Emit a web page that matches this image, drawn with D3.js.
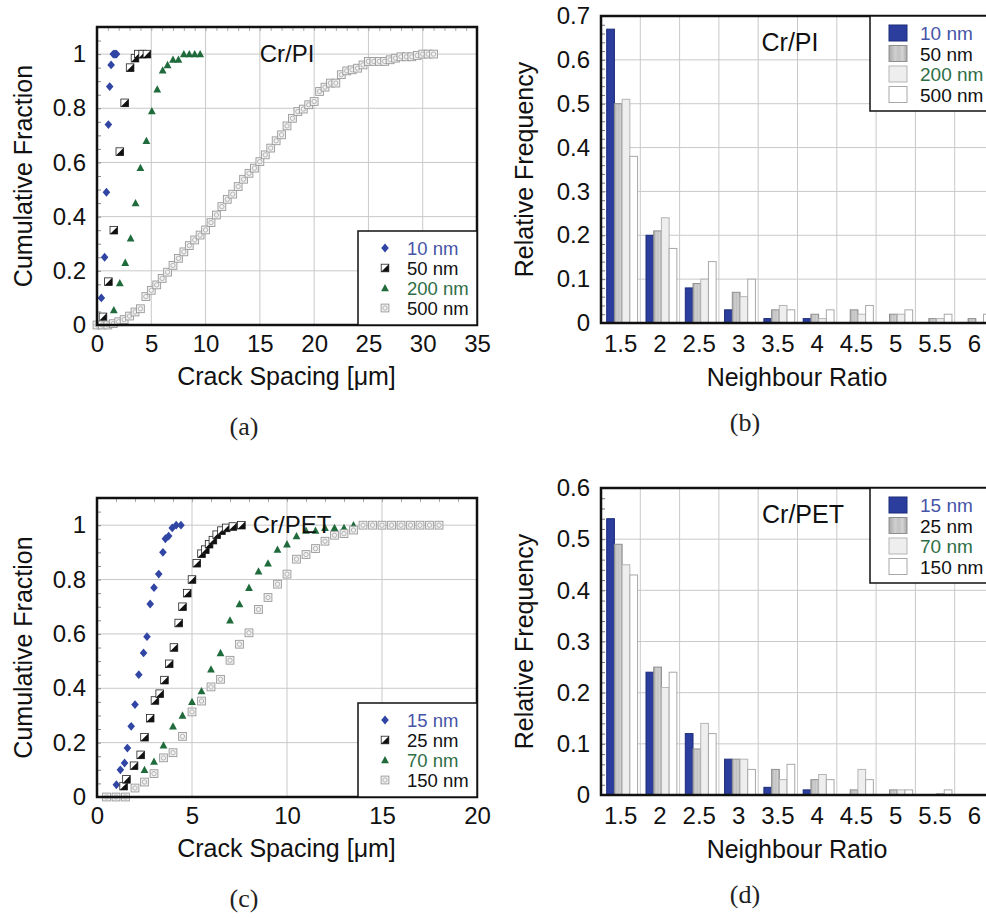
<!DOCTYPE html>
<html>
<head>
<meta charset="utf-8">
<script src="https://cdn.jsdelivr.net/npm/d3@7"></script>
<style>
body { margin: 0; background: #fff; }
svg { display: block; font-family: "Liberation Sans", Arial, Helvetica, sans-serif; }
</style>
</head>
<body>
<svg id="fig" width="986" height="918"></svg>
<script>
// ---- (a) Cr/PI cumulative crack spacing, [spacing um, fraction]
var pi10 = [[0.05,0],[0.4,0.1],[0.7,0.25],[0.87,0.49],[1.05,0.74],[1.17,0.88],[1.3,0.96],[1.5,1],[1.6,1],[1.7,1],[1.8,1]];
var pi50 = [[0.55,0.03],[1.05,0.16],[1.55,0.35],[2.1,0.64],[2.55,0.82],[3.05,0.95],[3.5,0.985],[3.8,1],[4.2,1],[4.6,1]];
var pi200 = [[1.55,0.055],[2.1,0.155],[2.6,0.23],[3.1,0.32],[3.55,0.45],[4.0,0.58],[4.55,0.68],[5.05,0.79],[5.55,0.87],[6.05,0.94],[6.5,0.96],[7.0,0.98],[7.5,0.98],[8.0,1],[8.5,1],[9.0,1],[9.5,1]];
var pi500X = [0,0.5,1,1.5,2,2.5,3,3.5,4,4.5,5,5.5,6,6.5,7,7.5,8,8.5,9,9.5,10,10.5,11,11.5,12,12.5,13,13.5,14,14.5,15,15.5,16,16.5,17,17.5,18,18.5,19,19.5,20,20.5,21,21.5,22,22.5,23,23.5,24,24.5,25,25.5,26,26.5,27,27.5,28,28.5,29,29.5,30,30.5,31];
var pi500Y = [0,0,0,0.005,0.012,0.02,0.033,0.048,0.06,0.105,0.128,0.148,0.172,0.195,0.22,0.246,0.27,0.293,0.314,0.332,0.351,0.378,0.406,0.437,0.464,0.483,0.511,0.538,0.56,0.579,0.603,0.628,0.653,0.68,0.702,0.735,0.763,0.788,0.797,0.813,0.825,0.862,0.878,0.893,0.893,0.924,0.938,0.942,0.948,0.96,0.973,0.973,0.973,0.973,0.979,0.985,0.99,0.99,0.99,0.995,1,1,1];

// ---- (c) Cr/PET cumulative crack spacing
var pet15 = [[1.02,0.045],[1.23,0.1],[1.45,0.125],[1.6,0.18],[1.8,0.26],[2.0,0.34],[2.2,0.45],[2.45,0.53],[2.63,0.59],[2.8,0.71],[3.0,0.77],[3.25,0.82],[3.47,0.9],[3.6,0.95],[3.77,0.96],[3.96,0.99],[4.17,1],[4.42,1]];
var pet25 = [[1.4,0.04],[1.55,0.065],[1.95,0.115],[2.3,0.155],[2.5,0.22],[2.8,0.29],[3.05,0.355],[3.3,0.38],[3.55,0.43],[3.8,0.49],[4.05,0.55],[4.3,0.64],[4.5,0.7],[4.75,0.75],[5.0,0.8],[5.25,0.86],[5.5,0.895],[5.7,0.91],[5.9,0.93],[6.1,0.945],[6.3,0.965],[6.55,0.98],[6.8,0.99],[7.15,0.995],[7.6,1]];
var pet70X = [2.5,3,3.5,4,4.5,5,5.5,6,6.5,7,7.5,8,8.5,9,9.5,10,10.5,11,11.5,12,12.5,13,13.5];
var pet70Y = [0.1,0.13,0.19,0.26,0.3,0.35,0.39,0.47,0.53,0.65,0.71,0.77,0.83,0.86,0.91,0.93,0.96,0.98,0.98,0.99,0.99,0.99,1];
var pet150X = [0.5,1,1.5,2,2.5,3,3.5,4,4.5,5,5.5,6,6.5,7,7.5,8,8.5,9,9.5,10,10.5,11,11.5,12,12.5,13,13.5,14,14.5,15,15.5,16,16.5,17,17.5,18];
var pet150Y = [0,0,0,0.033,0.055,0.086,0.144,0.163,0.223,0.313,0.353,0.405,0.433,0.503,0.562,0.604,0.69,0.734,0.783,0.82,0.875,0.892,0.914,0.941,0.963,0.969,0.982,1,1,1,1,1,1,1,1,1];

// ---- (b)/(d) neighbour ratio histograms
var ratioCats = ["1.5","2","2.5","3","3.5","4","4.5","5","5.5","6"];
var piBar10  = [0.67,0.20,0.08,0.03,0.01,0.01,0,0,0,0];
var piBar50  = [0.50,0.21,0.09,0.07,0.03,0.02,0.03,0.02,0.01,0.01];
var piBar200 = [0.51,0.24,0.10,0.06,0.04,0.01,0.02,0.02,0.01,0];
var piBar500 = [0.38,0.17,0.14,0.10,0.03,0.03,0.04,0.03,0.02,0.02];
var petBar15  = [0.54,0.24,0.12,0.07,0.015,0.01,0,0,0,0];
var petBar25  = [0.49,0.25,0.09,0.07,0.05,0.03,0.01,0.01,0,0];
var petBar70  = [0.45,0.21,0.14,0.07,0.03,0.04,0.05,0.01,0.003,0];
var petBar150 = [0.43,0.24,0.12,0.05,0.06,0.03,0.03,0.01,0.01,0];

var piLabels = ["10 nm","50 nm","200 nm","500 nm"];
var petLabels = ["15 nm","25 nm","70 nm","150 nm"];

// ---- ticks
var fracTicks = [0,0.2,0.4,0.6,0.8,1];
var piSpacingTicks = [0,5,10,15,20,25,30,35];
var petSpacingTicks = [0,5,10,15,20];
var piFreqTicks = [0,0.1,0.2,0.3,0.4,0.5,0.6,0.7];
var petFreqTicks = [0,0.1,0.2,0.3,0.4,0.5,0.6];

var blue = "#3146a4", green = "#1f6b3b";
var textColors = ["#4654a8", "#111", "#2e6e45", "#111"];
var fmt = d3.format("~g");
var FONT = '"Liberation Sans", Arial, Helvetica, sans-serif';

var svg = d3.select("#fig");

var defs = svg.append("defs");
var grad = defs.append("linearGradient").attr("id", "stripe").attr("x1", 0).attr("x2", 1).attr("y1", 0).attr("y2", 0);
grad.append("stop").attr("offset", "0").attr("stop-color", "#a9a9a9");
grad.append("stop").attr("offset", "0.35").attr("stop-color", "#cfcfcf");
grad.append("stop").attr("offset", "0.55").attr("stop-color", "#c2c2c2");
grad.append("stop").attr("offset", "0.75").attr("stop-color", "#d3d3d3");
grad.append("stop").attr("offset", "1").attr("stop-color", "#a9a9a9");

// marker shapes, drawn at (0,0)
function marker(g, kind) {
  if (kind === 0) {
    g.append("path").attr("d", "M0,-4.4L3.8,0L0,4.4L-3.8,0Z").attr("fill", blue);
  } else if (kind === 1) {
    g.append("rect").attr("x", -3.8).attr("y", -3.8).attr("width", 7.6).attr("height", 7.6)
      .attr("fill", "#fff").attr("stroke", "#222").attr("stroke-width", 0.8);
    g.append("path").attr("d", "M3.8,-3.8L3.8,3.8L-3.8,3.8Z").attr("fill", "#111");
  } else if (kind === 2) {
    g.append("path").attr("d", "M0,-4.1L3.9,3.2L-3.9,3.2Z").attr("fill", green);
  } else {
    g.append("rect").attr("x", -3.9).attr("y", -3.9).attr("width", 7.8).attr("height", 7.8)
      .attr("fill", "#f2f2f2").attr("stroke", "#999").attr("stroke-width", 0.9);
    g.append("circle").attr("r", 2.2).attr("fill", "none").attr("stroke", "#a5a5a5").attr("stroke-width", 0.8);
  }
}

function styleAxis(ax, size) {
  ax.select(".domain").remove();
  ax.attr("font-family", FONT).attr("font-size", size);
  ax.selectAll("text").attr("fill", "#111");
}

function frame(g, o) {
  g.append("rect").attr("x", o.left).attr("y", o.top)
    .attr("width", o.right - o.left).attr("height", o.bottom - o.top)
    .attr("fill", "none").attr("stroke", "#111").attr("stroke-width", 2.5);
}

function drawScatter(o) {
  var g = svg.append("g");
  var x = d3.scaleLinear().domain(o.xDomain).range([o.left, o.right]);
  var y = d3.scaleLinear().domain([0, 1.1]).range([o.bottom, o.top]);

  // grid
  g.append("g").selectAll("line").data(o.xTicks.slice(1, -1)).join("line")
    .attr("x1", d => x(d)).attr("x2", d => x(d)).attr("y1", o.top).attr("y2", o.bottom)
    .attr("stroke", "#c9c9c9");
  g.append("g").selectAll("line").data(fracTicks.slice(1)).join("line")
    .attr("x1", o.left).attr("x2", o.right).attr("y1", d => y(d)).attr("y2", d => y(d))
    .attr("stroke", "#c9c9c9");

  // minor ticks (inside)
  g.append("g").call(d3.axisLeft(y).ticks(22).tickSize(-4).tickFormat(""))
    .attr("transform", "translate(" + o.left + ",0)")
    .call(a => { a.select(".domain").remove(); a.selectAll("line").attr("stroke", "#888"); });
  g.append("g").call(d3.axisTop(x).ticks(o.xDomain[1]).tickSize(-4).tickFormat(""))
    .attr("transform", "translate(0," + o.top + ")")
    .call(a => { a.select(".domain").remove(); a.selectAll("line").attr("stroke", "#aaa"); });

  // data
  o.series.forEach(function(s, k) {
    g.append("g").selectAll("g").data(s).join("g")
      .attr("transform", d => "translate(" + x(d[0]) + "," + y(d[1]) + ")")
      .each(function() { marker(d3.select(this), k); });
  });

  frame(g, o);

  // axes
  g.append("g").attr("transform", "translate(0," + o.bottom + ")")
    .call(d3.axisBottom(x).tickValues(o.xTicks).tickSize(0).tickPadding(10).tickFormat(fmt))
    .call(a => styleAxis(a, 24));
  g.append("g").attr("transform", "translate(" + o.left + ",0)")
    .call(d3.axisLeft(y).tickValues(fracTicks).tickSize(0).tickPadding(11).tickFormat(fmt))
    .call(a => styleAxis(a, 24));

  // titles
  g.append("text").attr("x", (o.left + o.right) / 2 - 0.5).attr("y", o.bottom + 60)
    .attr("text-anchor", "middle").attr("font-size", 25).attr("fill", "#111")
    .text("Crack Spacing [\u03bcm]");
  g.append("text").attr("transform", "translate(32," + (o.top + o.bottom) / 2 + ") rotate(-90)")
    .attr("text-anchor", "middle").attr("font-size", 25).attr("fill", "#111")
    .text("Cumulative Fraction");
  g.append("text").attr("x", o.titleX).attr("y", o.top + 35)
    .attr("text-anchor", "middle").attr("font-size", 24).attr("fill", "#111").text(o.title);

  // legend
  var lx = 358, ly = o.bottom - 94;
  g.append("rect").attr("x", lx).attr("y", ly).attr("width", o.right - lx).attr("height", 94)
    .attr("fill", "#fff").attr("stroke", "#111").attr("stroke-width", 1.5);
  o.labels.forEach(function(lab, k) {
    var by = ly + 24 + 20 * k;
    var mg = g.append("g").attr("transform", "translate(385," + (by - 7) + ")");
    marker(mg, k);
    g.append("text").attr("x", 407).attr("y", by).attr("font-size", 18.5)
      .attr("fill", textColors[k]).text(lab);
  });

  // caption
  svg.append("text").attr("x", 244).attr("y", o.bottom + 110).attr("text-anchor", "middle")
    .attr("font-family", '"Liberation Serif", "DejaVu Serif", serif').attr("font-size", 26)
    .attr("fill", "#222").text(o.caption);
}

function drawBars(o) {
  var g = svg.append("g");
  var x0 = d3.scaleBand().domain(ratioCats).range([o.left, o.right]);
  var bw = x0.bandwidth();
  var x1 = d3.scaleBand().domain([0, 1, 2, 3]).range([0.145 * bw, 0.93 * bw]);
  var y = d3.scaleLinear().domain([0, o.yMax]).range([o.bottom, o.top]);

  // grid
  g.append("g").selectAll("line").data(ratioCats.slice(1)).join("line")
    .attr("x1", d => x0(d)).attr("x2", d => x0(d)).attr("y1", o.top).attr("y2", o.bottom)
    .attr("stroke", "#c9c9c9");
  g.append("g").selectAll("line").data(o.yTicks.slice(1)).join("line")
    .attr("x1", o.left).attr("x2", o.right).attr("y1", d => y(d)).attr("y2", d => y(d))
    .attr("stroke", "#c9c9c9");

  g.append("g").call(d3.axisLeft(y).ticks(o.yMax * 50).tickSize(-4).tickFormat(""))
    .attr("transform", "translate(" + o.left + ",0)")
    .call(a => { a.select(".domain").remove(); a.selectAll("line").attr("stroke", "#777"); });

  var fills = ["#2b3e9e", "url(#stripe)", "#eeeeee", "#ffffff"];
  var strokes = ["#1c2a78", "#8f8f8f", "#b5b5b5", "#a8a8a8"];
  o.series.forEach(function(vals, k) {
    g.append("g").selectAll("rect").data(vals.map((v, i) => [ratioCats[i], v]).filter(d => d[1] > 0)).join("rect")
      .attr("x", d => x0(d[0]) + x1(k)).attr("width", x1.bandwidth())
      .attr("y", d => y(d[1])).attr("height", d => y(0) - y(d[1]))
      .attr("fill", fills[k]).attr("stroke", strokes[k]).attr("stroke-width", 1);
  });

  frame(g, o);

  g.append("g").attr("transform", "translate(0," + o.bottom + ")")
    .call(d3.axisBottom(x0).tickSize(0).tickPadding(12))
    .call(a => styleAxis(a, 24));
  g.append("g").attr("transform", "translate(" + o.left + ",0)")
    .call(d3.axisLeft(y).tickValues(o.yTicks).tickSize(0).tickPadding(11).tickFormat(fmt))
    .call(a => styleAxis(a, 24));

  g.append("text").attr("x", 797).attr("y", o.bottom + 63)
    .attr("text-anchor", "middle").attr("font-size", 25).attr("fill", "#111").text("Neighbour Ratio");
  g.append("text").attr("transform", "translate(533," + (o.top + o.bottom) / 2 + ") rotate(-90)")
    .attr("text-anchor", "middle").attr("font-size", 25).attr("fill", "#111").text("Relative Frequency");
  g.append("text").attr("x", o.titleX).attr("y", o.top + 35)
    .attr("text-anchor", "middle").attr("font-size", 25).attr("fill", "#111").text(o.title);

  // legend
  g.append("rect").attr("x", 870).attr("y", o.top).attr("width", 140).attr("height", 95)
    .attr("fill", "#fff").attr("stroke", "#111").attr("stroke-width", 1.5);
  o.labels.forEach(function(lab, k) {
    var by = o.top + 24 + 20.5 * k;
    g.append("rect").attr("x", 889).attr("y", by - 15).attr("width", 18).attr("height", 16)
      .attr("fill", fills[k]).attr("stroke", strokes[k]);
    g.append("text").attr("x", 920).attr("y", by).attr("font-size", 19)
      .attr("fill", textColors[k]).text(lab);
  });

  svg.append("text").attr("x", 745).attr("y", o.bottom + 108).attr("text-anchor", "middle")
    .attr("font-family", '"Liberation Serif", "DejaVu Serif", serif').attr("font-size", 26)
    .attr("fill", "#222").text(o.caption);
}

function pairs(xs, ys) { return xs.map((v, i) => [v, ys[i]]); }

drawScatter({
  left: 97, right: 477, top: 27, bottom: 325, xDomain: [0, 35], xTicks: piSpacingTicks,
  series: [pi10, pi50, pi200, pairs(pi500X, pi500Y)], labels: piLabels,
  title: "Cr/PI", titleX: 287, caption: "(a)"
});
drawScatter({
  left: 97, right: 477, top: 498, bottom: 797, xDomain: [0, 20], xTicks: petSpacingTicks,
  series: [pet15, pet25, pairs(pet70X, pet70Y), pairs(pet150X, pet150Y)], labels: petLabels,
  title: "Cr/PET", titleX: 292, caption: "(c)"
});
drawBars({
  left: 601, right: 994, top: 16, bottom: 323, yMax: 0.7, yTicks: piFreqTicks,
  series: [piBar10, piBar50, piBar200, piBar500], labels: piLabels,
  title: "Cr/PI", titleX: 790, caption: "(b)"
});
drawBars({
  left: 601, right: 994, top: 488, bottom: 795, yMax: 0.6, yTicks: petFreqTicks,
  series: [petBar15, petBar25, petBar70, petBar150], labels: petLabels,
  title: "Cr/PET", titleX: 803, caption: "(d)"
});
</script>
</body>
</html>
